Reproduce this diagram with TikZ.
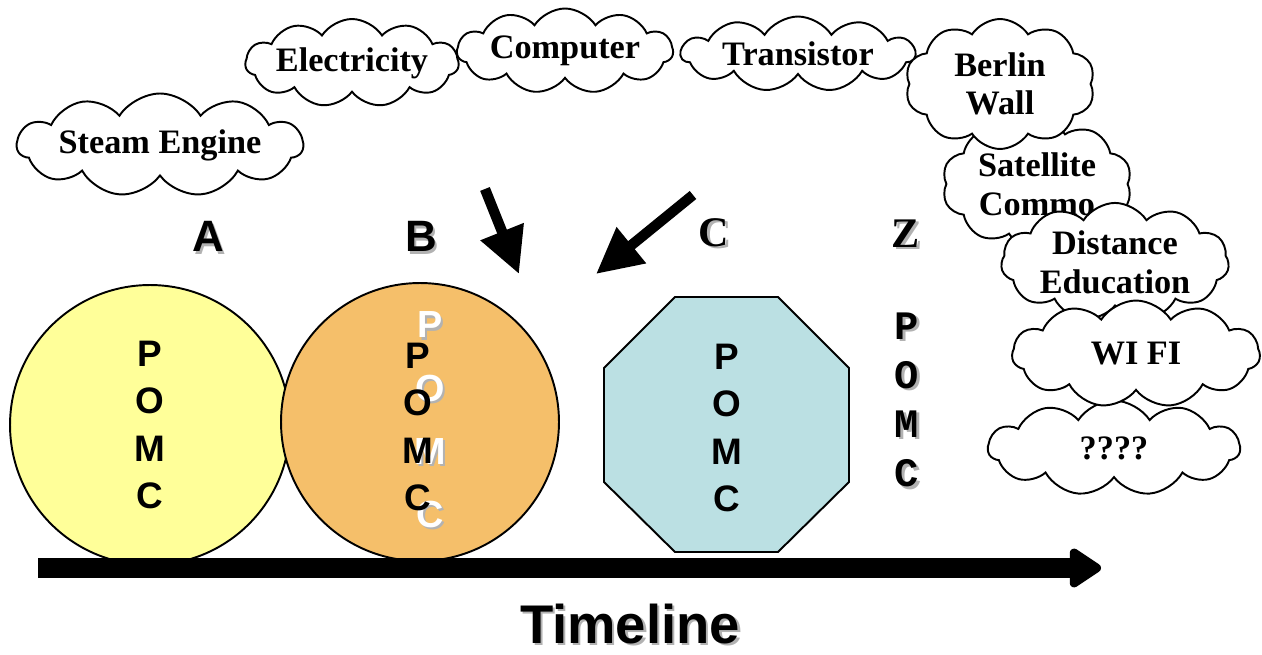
\documentclass[tikz,border=0pt]{standalone}
\usepackage{fontspec}
\setmainfont{Liberation Serif}
\newfontfamily\arialf{Liberation Sans}
\newfontfamily\courf{Liberation Mono}
\usetikzlibrary{shapes.symbols,shapes.geometric,arrows.meta}
\definecolor{cyel}{HTML}{FFFF99}
\definecolor{corg}{HTML}{F5BF6A}
\definecolor{cblu}{HTML}{BBE0E3}
\newcommand{\shd}[1]{\makebox[0pt][l]{\hspace{1.3pt}\raisebox{-1.3pt}{\color{black!30}#1}}#1}
\newcommand{\shw}[1]{\makebox[0pt][l]{\hspace{1.3pt}\raisebox{-1.3pt}{\color{black!30}#1}}{\color{white}#1}}
\tikzset{
  cl/.style={cloud, cloud puffs=11, cloud puff arc=115, cloud ignores aspect, draw, fill=white,
    line width=1.1pt, align=center, inner sep=0pt,
    font=\bfseries\fontsize{19.5}{22}\selectfont},
  pomc/.style={align=center, inner sep=0pt, font=\arialf\bfseries\fontsize{21}{27}\selectfont},
  lab/.style={inner sep=0pt, font=\arialf\bfseries\fontsize{25}{28}\selectfont},
  labt/.style={inner sep=0pt, font=\bfseries\fontsize{24}{28}\selectfont},
  bigarrow/.style={line width=5.9pt, -{Triangle[width=25pt,length=26pt]}},
  shape outline/.style={draw, line width=1.1pt}
}
\begin{document}
\begin{tikzpicture}[x=0.02cm,y=-0.02cm]
\useasboundingbox (0,0) rectangle (1262,655);
% clouds
\node[cl, minimum width=5.72cm, minimum height=2.06cm] (steam) at (160,145) {Steam Engine};
\node[cl, minimum width=4.16cm, minimum height=1.76cm] (elec) at (352,63) {Electricity};
\node[cl, minimum width=4.32cm, minimum height=1.70cm] (comp) at (565,51) {Computer};
\node[cl, minimum width=4.68cm, minimum height=1.50cm] (trans) at (798,54) {Transistor};
\node[cl, cloud puffs=10, minimum width=3.80cm, minimum height=2.60cm] (sat) at (1037,184) {Satellite\\Commo};
\node[cl, cloud puffs=10, minimum width=3.80cm, minimum height=2.60cm] (berlin) at (1000,84) {Berlin\\Wall};
\node[cl, minimum width=4.56cm, minimum height=2.06cm] (dist) at (1115,262) {Distance\\Education};
\node[cl, minimum width=5.04cm, minimum height=1.90cm] (qq) at (1114,448) {????};
\node[cl, minimum width=4.96cm, minimum height=2.14cm] (wifi) at (1136,354) {WI FI};
% arrows
\coordinate (a1s) at (485,189);
\coordinate (a1e) at (519,274);
\coordinate (a2s) at (693,195);
\coordinate (a2e) at (596,274);
\draw[bigarrow] (a1s) -- (a1e);
\draw[bigarrow] (a2s) -- (a2e);
% labels
\node[lab] (lA) at (208,238) {\shd{A}};
\node[lab] (lB) at (421,238) {\shd{B}};
\node[labt] (lC) at (714,234) {\shd{C}};
\node[labt] (lZ) at (906,235) {\shd{Z}};
% shapes
\node[circle, shape outline, fill=cyel, minimum size=5.6cm, pomc] (A) at (150,425) {P\\O\\M\\C};
\node[circle, shape outline, fill=corg, minimum size=5.56cm, pomc] (B) at (420,422) {};
\node[pomc, font=\arialf\bfseries\fontsize{21.5}{36}\selectfont] (Bw) at (430,421) {\shw{P}\\\shw{O}\\\shw{M}\\\shw{C}};
\node[pomc] (Bt) at (418,427) {P\\O\\M\\C};
\draw[shape outline, fill=cblu] (675,297) -- (778,297) -- (849,368) -- (849,482) -- (778,552) -- (675,552) -- (604,482) -- (604,368) -- cycle;
\node[pomc] (C) at (727,428) {P\\O\\M\\C};
\node[align=center, inner sep=0pt, font=\courf\bfseries\fontsize{23}{28}\selectfont] (Z) at (907,401) {\shd{P}\\\shd{O}\\\shd{M}\\\shd{C}};
% timeline
\coordinate (t0) at (38,568);
\coordinate (t1) at (1101,568);
\draw[line width=11.3pt, -{Triangle[width=25pt,length=20pt,round]}] (t0) -- (t1);
\node[inner sep=0pt, font=\arialf\bfseries\fontsize{31}{34}\selectfont] (tl) at (630,625) {\shd{Timeline}};
\end{tikzpicture}
\end{document}
